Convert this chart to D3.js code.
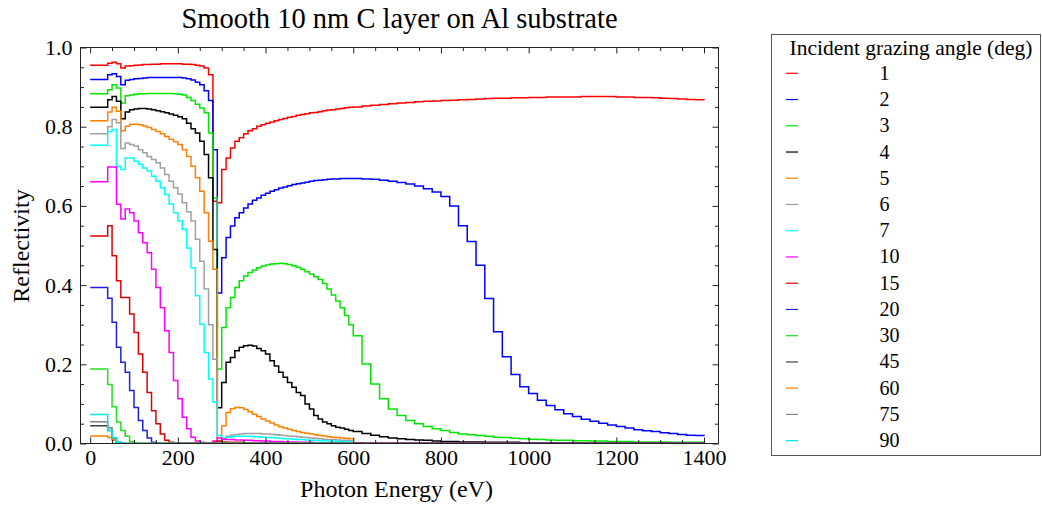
<!DOCTYPE html>
<html><head><meta charset="utf-8">
<script src="https://cdn.jsdelivr.net/npm/d3@7"></script>
<style>
body{margin:0;background:#fff}
svg text{font-family:"Liberation Serif","Times New Roman",serif;fill:#000}
</style>
</head><body>
<svg id="c" width="1042" height="506"></svg>
<script>
// Photon energy grid (eV)
const energy = [0,10,20,30,40,50,60,70,80,90,100,110,120,130,140,150,160,170,180,190,200,210,220,230,240,250,260,270,280,290,300,310,320,330,340,350,360,370,380,390,400,410,420,430,440,450,460,470,480,490,500,510,520,530,540,550,560,570,580,590,600,
620,640,660,680,700,720,740,760,780,800,820,840,860,880,900,920,940,960,980,1000,1020,1040,1060,1080,1100,1120,1140,1160,1180,1200,1220,1240,1260,1280,1300,1320,1340,1360,1380,1400];

const angles = ["1","2","3","4","5","6","7","10","15","20","30","45","60","75","90"];
const colors = ["#ff0000","#0000ff","#00e600","#000000","#ff8000","#a0a0a0","#00ffff","#ff00ff","#e00000","#2020e0","#20e020","#404040","#ff8000","#808080","#00e8e8"];

const r1 = [.955,.955,.955,.955,.960,.963,.959,.948,.953,.954,
 .955,.956,.957,.957,.958,.958,.959,.959,.959,.959,
 .959,.958,.958,.957,.955,.953,.948,.931,.612,.608,
 .692,.721,.746,.763,.772,.782,.790,.795,.801,.805,
 .809,.812,.815,.818,.821,.824,.826,.829,.831,.833,
 .835,.836,.838,.840,.842,.843,.845,.846,.848,.849,
 .850,
 .852,.854,.856,.858,.860,.861,.863,.864,.865,.866,
 .867,.868,.869,.870,.871,.872,.872,.873,.873,.874,
 .874,.875,.875,.875,.875,.876,.876,.876,.876,.875,
 .875,.874,.874,.873,.872,.871,.870,.869,.868,.867];
const r2 = [.919,.919,.919,.919,.931,.934,.927,.906,.917,.919,
 .921,.922,.923,.924,.924,.924,.924,.924,.924,.924,
 .924,.923,.921,.918,.912,.906,.891,.866,.742,.380,
 .469,.520,.549,.570,.583,.595,.605,.614,.620,.627,
 .632,.637,.641,.645,.648,.651,.654,.656,.658,.660,
 .662,.664,.665,.666,.667,.668,.668,.669,.669,.669,
 .669,
 .668,.667,.665,.662,.659,.655,.650,.643,.635,.624,
 .600,.550,.510,.450,.366,.282,.219,.174,.143,.126,
 .109,.096,.085,.075,.068,.061,.056,.051,.047,.043,
 .039,.035,.032,.030,.027,.025,.023,.021,.020,.019];
const r3 = [.883,.883,.883,.883,.893,.906,.898,.860,.878,.880,
 .882,.883,.883,.884,.884,.884,.884,.884,.884,.883,
 .882,.880,.874,.866,.857,.847,.835,.784,.620,.188,
 .293,.343,.369,.394,.411,.423,.432,.438,.444,.448,
 .451,.453,.454,.455,.454,.452,.449,.445,.440,.434,
 .428,.421,.414,.404,.390,.375,.360,.343,.323,.300,
 .272,
 .201,.150,.113,.087,.071,.058,.050,.043,.037,.033,
 .028,.024,.022,.020,.018,.016,.015,.013,.012,.011,
 .010,.009,.008,.008,.007,.007,.006,.006,.005,.005,
 .005,.004,.004,.004,.004,.003,.003,.003,.003,.003];
const r4 = [.849,.849,.849,.849,.868,.876,.864,.820,.837,.843,
 .845,.846,.846,.845,.843,.840,.838,.835,.832,.829,
 .825,.820,.809,.795,.784,.763,.730,.671,.490,.090,
 .154,.205,.217,.234,.243,.247,.248,.246,.240,.234,
 .226,.209,.196,.180,.167,.154,.142,.129,.121,.100,
 .087,.071,.062,.054,.050,.045,.041,.039,.036,.033,
 .030,
 .025,.021,.017,.014,.012,.010,.009,.008,.006,.005,
 .005,.004,.004,.004,.003,.003,.003,.003,.002,.002,
 .002,.002,.002,.002,.002,.002,.001,.001,.001,.001,
 .001,.001,.001,.001,.001,.001,.001,.001,.001,.001];
const r5 = [.815,.815,.815,.815,.837,.849,.839,.790,.801,.806,
 .806,.805,.802,.798,.793,.788,.782,.775,.768,.762,
 .755,.742,.725,.700,.671,.637,.583,.511,.440,.004,
 .045,.078,.088,.091,.090,.086,.080,.074,.068,.062,
 .057,.052,.047,.042,.039,.036,.033,.030,.028,.026,
 .024,.022,.020,.019,.017,.016,.015,.014,.013,.012,
 .011];
const r6 = [.782,.782,.782,.782,.800,.818,.810,.745,.759,.755,
 .751,.742,.734,.725,.717,.709,.696,.679,.662,.646,
 .630,.608,.585,.562,.516,.460,.390,.300,.213,.005,
 .012,.018,.021,.023,.024,.025,.025,.025,.025,.024,
 .024,.023,.022,.021,.020,.019,.018,.017,.016,.015,
 .014,.013,.012,.011,.010,.010,.009,.008,.008,.007,
 .007];
const r7 = [.753,.753,.753,.753,.788,.793,.700,.692,.721,.721,
 .713,.705,.696,.688,.675,.662,.646,.629,.605,.583,
 .562,.541,.494,.444,.373,.301,.230,.163,.105,.020,
 .014,.016,.017,.018,.018,.018,.018,.017,.017,.016,
 .015,.015,.014,.013,.012,.012,.011,.010,.010,.009,
 .008,.008,.007,.007,.006,.006,.005,.005,.005,.004,
 .004];
const r10 = [.661,.661,.661,.661,.698,.698,.604,.567,.592,.583,
 .562,.532,.507,.482,.440,.394,.343,.285,.230,.159,
 .113,.066,.037,.016,.006,.003,.002,.002,.006,.014,
 .011,.010,.010,.009,.009,.008,.008,.007,.007,.006,
 .006,.005,.005,.005,.004,.004,.004,.003,.003,.003,
 .003,.002,.002,.002,.002,.002,.002,.002,.002,.002,
 .002,
 .001,.001,.001,.001,.001,.001,.001,.001,.001,.001,
 .001,.001,.001,.001,.001,.001,.001,.001,.001,.001,
 .001,.001,.001,.001,.001,.001,.001,.001,.001,.001,
 .001,.001,.001,.001,.001,.001,.001,.001,.001,.001];
const r15 = [.524,.524,.524,.524,.550,.474,.411,.369,.369,.327,
 .280,.226,.180,.129,.083,.050,.024,.008,.003,.002,
 .001,.001,.001,.001,.001,.001,.001,.001,.003,.006,
 .004,.003,.003,.003,.003,.002,.002,.002,.002,.002,
 .002,.002,.001,.001,.001,.001,.001,.001,.001,.001,
 .001,.001,.001,.001,.001,.001,.001,.001,.001,.001,
 .001,
 0,0,0,0,0,0,0,0,0,0, 0,0,0,0,0,0,0,0,0,0,
 0,0,0,0,0,0,0,0,0,0, 0,0,0,0,0,0,0,0,0,0];
const r20 = [.394,.394,.394,.394,.367,.306,.243,.205,.180,.134,
 .091,.058,.033,.014,.003,.001,0,0,0,0,
 0,0,0,0,0,0,0,0,0,0, 0,0,0,0,0,0,0,0,0,0,
 0,0,0,0,0,0,0,0,0,0, 0,0,0,0,0,0,0,0,0,0,
 0,
 0,0,0,0,0,0,0,0,0,0, 0,0,0,0,0,0,0,0,0,0,
 0,0,0,0,0,0,0,0,0,0, 0,0,0,0,0,0,0,0,0,0];
const r30 = [.188,.188,.188,.188,.149,.093,.054,.033,.018,.005,
 .001,0,0,0,0,0,0,0,0,0,
 0,0,0,0,0,0,0,0,0,0, 0,0,0,0,0,0,0,0,0,0,
 0,0,0,0,0,0,0,0,0,0, 0,0,0,0,0,0,0,0,0,0,
 0,
 0,0,0,0,0,0,0,0,0,0, 0,0,0,0,0,0,0,0,0,0,
 0,0,0,0,0,0,0,0,0,0, 0,0,0,0,0,0,0,0,0,0];
const r45 = [.045,.045,.045,.045,.033,.012,.003,.001,0,0,
 0,0,0,0,0,0,0,0,0,0,
 0,0,0,0,0,0,0,0,0,0, 0,0,0,0,0,0,0,0,0,0,
 0,0,0,0,0,0,0,0,0,0, 0,0,0,0,0,0,0,0,0,0,
 0,
 0,0,0,0,0,0,0,0,0,0, 0,0,0,0,0,0,0,0,0,0,
 0,0,0,0,0,0,0,0,0,0, 0,0,0,0,0,0,0,0,0,0];
const r60 = [.019,.019,.019,.019,.015,.008,.002,.001,0,0,
 0,0,0,0,0,0,0,0,0,0, 0,0,0,0,0,0,0,0,0,0,
 0,0,0,0,0,0,0,0,0,0, 0,0,0,0,0,0,0,0,0,0,
 0,0,0,0,0,0,0,0,0,0, 0];
const r75 = [.055,.055,.055,.055,.040,.013,.003,.001,0,0,
 0,0,0,0,0,0,0,0,0,0, 0,0,0,0,0,0,0,0,0,0,
 0,0,0,0,0,0,0,0,0,0, 0,0,0,0,0,0,0,0,0,0,
 0,0,0,0,0,0,0,0,0,0, 0];
const r90 = [.073,.073,.073,.073,.033,.015,.003,.001,0,0,
 0,0,0,0,0,0,0,0,0,0, 0,0,0,0,0,0,0,0,0,0,
 0,0,0,0,0,0,0,0,0,0, 0,0,0,0,0,0,0,0,0,0,
 0,0,0,0,0,0,0,0,0,0, 0];

const xMajor = [0,200,400,600,800,1000,1200,1400];
const yMajor = [0,0.2,0.4,0.6,0.8,1.0];

const seriesVals = [r1,r2,r3,r4,r5,r6,r7,r10,r15,r20,r30,r45,r60,r75,r90];

const svg = d3.select("#c");
const L=80.5, R=718.5, T=47.5, B=443.5;
const x = d3.scaleLinear().domain([-22,1433]).range([L,R]);
const y = d3.scaleLinear().domain([0,1]).range([B,T]);

svg.append("defs").append("clipPath").attr("id","pc")
  .append("rect").attr("x",L).attr("y",T-1).attr("width",R-L).attr("height",B-T+1);

// curves
const line = d3.line().x(d=>x(d[0])).y(d=>y(d[1])).curve(d3.curveStepAfter);
const g = svg.append("g").attr("clip-path","url(#pc)");
seriesVals.forEach((vals,k)=>{
  const pts = vals.map((v,i)=>[energy[i],v]);
  g.append("path").attr("d",line(pts)).attr("fill","none")
   .attr("stroke",colors[k]).attr("stroke-width",1.5).attr("stroke-linejoin","miter");
});

// frame
svg.append("rect").attr("x",L).attr("y",T).attr("width",R-L).attr("height",B-T)
  .attr("fill","none").attr("stroke","#222").attr("stroke-width",1);

const xMinor = d3.range(0,1401,50).filter(v=>!xMajor.includes(v));
const yMinor = d3.range(0,21).map(i=>+(i*0.05).toFixed(2)).filter(v=>!yMajor.some(m=>Math.abs(m-v)<1e-9));

function styleAxis(sel){ sel.select(".domain").remove(); sel.selectAll("line").attr("stroke","#222"); }

svg.append("g").attr("transform",`translate(0,${B})`)
  .call(d3.axisBottom(x).tickValues(xMajor).tickSize(-6).tickPadding(6).tickFormat(d3.format("d")))
  .call(styleAxis).selectAll("text").style("font-size","22px").style("font-family","Liberation Serif").attr("fill","#000");
svg.append("g").attr("transform",`translate(0,${B})`)
  .call(d3.axisBottom(x).tickValues(xMinor).tickSize(-3.5).tickFormat(""))
  .call(styleAxis);
svg.append("g").attr("transform",`translate(0,${T})`)
  .call(d3.axisTop(x).tickValues(xMajor).tickSize(-6).tickFormat(""))
  .call(styleAxis);
svg.append("g").attr("transform",`translate(0,${T})`)
  .call(d3.axisTop(x).tickValues(xMinor).tickSize(-3.5).tickFormat(""))
  .call(styleAxis);
svg.append("g").attr("transform",`translate(${L},0)`)
  .call(d3.axisLeft(y).tickValues(yMajor).tickSize(-6).tickPadding(8).tickFormat(d3.format(".1f")))
  .call(styleAxis).selectAll("text").style("font-size","22px").style("font-family","Liberation Serif").attr("fill","#000");
svg.append("g").attr("transform",`translate(${L},0)`)
  .call(d3.axisLeft(y).tickValues(yMinor).tickSize(-3.5).tickFormat(""))
  .call(styleAxis);
svg.append("g").attr("transform",`translate(${R},0)`)
  .call(d3.axisRight(y).tickValues(yMajor).tickSize(-6).tickFormat(""))
  .call(styleAxis);
svg.append("g").attr("transform",`translate(${R},0)`)
  .call(d3.axisRight(y).tickValues(yMinor).tickSize(-3.5).tickFormat(""))
  .call(styleAxis);

// titles
svg.append("text").attr("x",(L+R)/2).attr("y",28).attr("text-anchor","middle")
  .style("font-size","28.5px").text("Smooth 10 nm C layer on Al substrate");
svg.append("text").attr("x",(L+R)/2 - 3).attr("y",497).attr("text-anchor","middle")
  .style("font-size","24px").text("Photon Energy (eV)");
svg.append("text").attr("transform","translate(29,246) rotate(-90)").attr("text-anchor","middle")
  .style("font-size","24px").text("Reflectivity");

// legend
const lg = svg.append("g");
lg.append("rect").attr("x",771.5).attr("y",34.5).attr("width",269).attr("height",421)
  .attr("fill","#fff").attr("stroke","#555").attr("stroke-width",1);
lg.append("text").attr("x",911).attr("y",55).attr("text-anchor","middle")
  .style("font-size","21.5px").text("Incident grazing angle (deg)");
angles.forEach((a,i)=>{
  const cy = 73.3 + i*26.24;
  lg.append("line").attr("x1",786).attr("x2",798).attr("y1",cy).attr("y2",cy)
    .attr("stroke",colors[i]).attr("stroke-width",1.2);
  lg.append("text").attr("x",879.5).attr("y",cy+6.5).style("font-size","20px").text(a);
});
</script>
</body></html>
